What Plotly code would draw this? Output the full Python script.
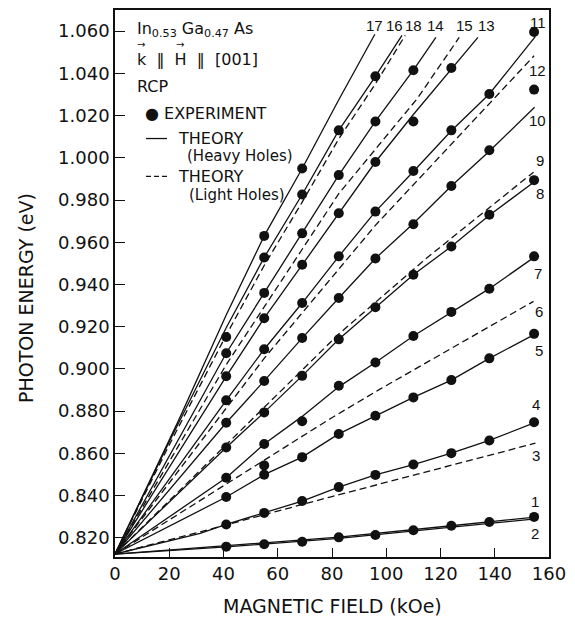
import plotly.graph_objects as go

# ---------------- data ----------------
E0 = 0.8123

# experimental points, per field column (kOe)
exp_fields = [41, 55, 69, 82.5, 96, 110, 124, 138, 154.5]
exp_41 = [0.9151, 0.9074, 0.8965, 0.8851, 0.8745, 0.8628, 0.8484, 0.8393, 0.8263, 0.8158]
exp_55 = [0.9630, 0.9528, 0.9360, 0.9240, 0.9093, 0.8943, 0.8794, 0.8644, 0.8543, 0.8499, 0.8318, 0.8169]
exp_69 = [0.9949, 0.9826, 0.9642, 0.9493, 0.9312, 0.9146, 0.8967, 0.8752, 0.8582, 0.8374, 0.8181]
exp_82 = [1.0130, 0.9918, 0.9737, 0.9533, 0.9336, 0.9140, 0.8920, 0.8692, 0.8440, 0.8202]
exp_96 = [1.0386, 1.0172, 0.9980, 0.9745, 0.9523, 0.9292, 0.9030, 0.8778, 0.8498, 0.8213]
exp_110 = [1.0415, 1.0172, 0.9937, 0.9685, 0.9446, 0.9156, 0.8865, 0.8547, 0.8236]
exp_124 = [1.0425, 1.0130, 0.9866, 0.9580, 0.9270, 0.8947, 0.8601, 0.8257]
exp_138 = [1.0302, 1.0036, 0.9730, 0.9380, 0.9050, 0.8661, 0.8275]
exp_154 = [1.0596, 1.0323, 0.9894, 0.9533, 0.9166, 0.8747, 0.8299]
exp_columns = [exp_41, exp_55, exp_69, exp_82, exp_96, exp_110, exp_124, exp_138, exp_154]

# theory lines: (field list, energy list), heavy holes solid, light holes dashed
L1_B = [0, 41, 82.5, 124, 155];  L1_E = [E0, 0.8162, 0.8203, 0.8257, 0.8298]
L2_B = [0, 41, 82.5, 124, 155];  L2_E = [E0, 0.8157, 0.8197, 0.8250, 0.8290]
L3_B = [0, 31.4, 79.3, 155];     L3_E = [E0, 0.8228, 0.8393, 0.8648]
L4_B = [0, 31.4, 41, 55, 69, 82.5, 96, 110, 124, 138, 155]
L4_E = [E0, 0.8221, 0.8263, 0.8318, 0.8374, 0.8440, 0.8498, 0.8547, 0.8601, 0.8661, 0.8747]
L5_B = [0, 41, 55, 69, 82.5, 96, 110, 124, 138, 155]
L5_E = [E0, 0.8393, 0.8499, 0.8582, 0.8692, 0.8778, 0.8865, 0.8947, 0.9050, 0.9166]
L6_B = [0, 31.4, 79.2, 97.7, 154.3]
L6_E = [E0, 0.8377, 0.8763, 0.8904, 0.9320]
L7_B = [0, 41, 55, 69, 82.5, 96, 110, 124, 138, 155]
L7_E = [E0, 0.8484, 0.8644, 0.8775, 0.8915, 0.9030, 0.9156, 0.9270, 0.9380, 0.9533]
L8_B = [0, 41, 55, 69, 82.5, 96, 110, 124, 138, 155]
L8_E = [E0, 0.8628, 0.8794, 0.8967, 0.9140, 0.9292, 0.9446, 0.9580, 0.9728, 0.9890]
L9_B = [0, 41, 82.5, 114.8, 154.3]
L9_E = [E0, 0.8640, 0.9165, 0.9524, 0.9932]
L10_B = [0, 41, 55, 69, 82.5, 96, 110, 124, 138, 154.7]
L10_E = [E0, 0.8745, 0.8943, 0.9146, 0.9336, 0.9523, 0.9689, 0.9866, 1.0031, 1.0239]
L11_B = [0, 41, 55, 69, 82.5, 96, 110, 124, 138, 155]
L11_E = [E0, 0.8851, 0.9093, 0.9312, 0.9533, 0.9745, 0.9935, 1.0128, 1.0302, 1.0575]
L12_B = [0, 55, 96, 124.6, 154.5]
L12_E = [E0, 0.9050, 0.9680, 1.0074, 1.0483]
L13_B = [0, 41, 55, 69, 82.5, 96, 110, 124, 133.8]
L13_E = [E0, 0.8965, 0.9240, 0.9493, 0.9737, 0.9980, 1.0205, 1.0420, 1.0570]
L14_B = [0, 41, 55, 69, 82.5, 96, 110, 118.3]
L14_E = [E0, 0.9074, 0.9360, 0.9642, 0.9918, 1.0172, 1.0415, 1.0570]
L15_B = [0, 41, 82.5, 111.4, 126.9]
L15_E = [E0, 0.9020, 0.9830, 1.0280, 1.0570]
L16_B = [0, 20, 41, 55, 69, 82.5, 96, 107]
L16_E = [E0, 0.8640, 0.9160, 0.9490, 0.9790, 1.0090, 1.0350, 1.0580]
L17_B = [0, 23.4, 41, 55, 69, 82.5, 95.8]
L17_E = [E0, 0.8755, 0.9255, 0.9630, 0.9949, 1.0275, 1.0585]
L18_B = [0, 20, 41, 55, 69, 82.5, 96, 105.8]
L18_E = [E0, 0.8655, 0.9195, 0.9528, 0.9826, 1.0130, 1.0386, 1.0580]

solid_lines = [(L1_B, L1_E), (L2_B, L2_E), (L4_B, L4_E), (L5_B, L5_E), (L7_B, L7_E),
               (L8_B, L8_E), (L10_B, L10_E), (L11_B, L11_E), (L13_B, L13_E),
               (L14_B, L14_E), (L17_B, L17_E), (L18_B, L18_E)]
dashed_lines = [(L3_B, L3_E), (L6_B, L6_E), (L9_B, L9_E), (L12_B, L12_E),
                (L15_B, L15_E), (L16_B, L16_E)]

# line labels (text, field, energy)
label_text = ["17", "16", "18", "14", "15", "13", "11", "12", "10", "9", "8", "7", "6", "5", "4", "3", "1", "2"]
label_B = [95.5, 102.9, 109.9, 118.3, 128.9, 136.9, 155.9, 155.9, 155.8, 156.6, 156.6, 155.9, 156.3, 156.3, 155.1, 155.3, 154.7, 154.7]
label_E = [1.0626, 1.0626, 1.0626, 1.0626, 1.0626, 1.0626, 1.0640, 1.0413, 1.0177, 0.9988, 0.9830, 0.9454, 0.9273, 0.9085, 0.8830, 0.8590, 0.8370, 0.8221]

y_ticks = [0.82, 0.84, 0.86, 0.88, 0.90, 0.92, 0.94, 0.96, 0.98, 1.00, 1.02, 1.04, 1.06]
y_tick_text = ["0.820", "0.840", "0.860", "0.880", "0.900", "0.920", "0.940", "0.960", "0.980",
               "1.000", "1.020", "1.040", "1.060"]
x_ticks = [0, 20, 40, 60, 80, 100, 120, 140, 160]

# ---------------- figure ----------------
INK = "#111111"
FONT = "DejaVu Sans"
LFONT = "Liberation Sans"
fig = go.Figure()

for B, E in solid_lines:
    fig.add_trace(go.Scatter(x=B, y=E, mode="lines", line=dict(color=INK, width=1.3),
                             hoverinfo="skip", showlegend=False))
for B, E in dashed_lines:
    fig.add_trace(go.Scatter(x=B, y=E, mode="lines", line=dict(color=INK, width=1.3, dash="7px,4px"),
                             hoverinfo="skip", showlegend=False))

ex, ey = [], []
for f, col in zip(exp_fields, exp_columns):
    ex += [f] * len(col)
    ey += col
fig.add_trace(go.Scatter(x=ex, y=ey, mode="markers", marker=dict(color=INK, size=10),
                         showlegend=False))

ann = []
for t, b, e in zip(label_text, label_B, label_E):
    ann.append(dict(x=b, y=e, xref="x", yref="y", text=t, showarrow=False,
                    font=dict(family=LFONT, size=15, color=INK), xanchor="center", yanchor="middle"))

# page has an 8px body margin; plot area on the page: x 115..549, y 8..557
def px(x):
    return (x - 115) / 434.0

def py(y):
    return (557 - y) / 549.0

def txt(x, y, s, size=16, anchor="left"):
    ann.append(dict(x=px(x), y=py(y), xref="paper", yref="paper", text=s, showarrow=False,
                    font=dict(family=FONT, size=size, color=INK), xanchor=anchor, yanchor="middle"))

txt(135, 28, "In<sub>0.53</sub> Ga<sub>0.47</sub> As")
txt(135, 58, "k  \u2016  H  \u2016  [001]")
txt(141, 43, "\u2192", 10, "center")
txt(180, 43, "\u2192", 10, "center")
txt(135, 85, "RCP")
txt(143, 112, "\u25cf EXPERIMENT")
txt(176, 137, "THEORY")
txt(185, 155, "(Heavy Holes)", 15)
txt(176, 175, "THEORY")
txt(187, 194, "(Light Holes)", 15)

# axis titles
ann.append(dict(x=px(332), y=py(606), xref="paper", yref="paper", text="MAGNETIC FIELD (kOe)",
                showarrow=False, font=dict(family=FONT, size=19, color=INK),
                xanchor="center", yanchor="middle"))
ann.append(dict(x=px(26), y=py(297), xref="paper", yref="paper", text="PHOTON ENERGY (eV)",
                showarrow=False, textangle=-90, font=dict(family=FONT, size=19, color=INK),
                xanchor="center", yanchor="middle"))

shapes = [
    dict(type="line", xref="paper", yref="paper", x0=px(146), x1=px(167), y0=py(137), y1=py(137),
         line=dict(color=INK, width=1.3)),
    dict(type="line", xref="paper", yref="paper", x0=px(146), x1=px(167), y0=py(175), y1=py(175),
         line=dict(color=INK, width=1.3, dash="5px,3px")),
]

fig.update_layout(
    width=567, height=615, autosize=False,
    margin=dict(l=107, r=26, t=0, b=66),
    paper_bgcolor="white", plot_bgcolor="white",
    annotations=ann, shapes=shapes, showlegend=False,
    xaxis=dict(range=[0, 160], tickvals=x_ticks, ticks="inside", ticklen=9, tickwidth=1.3,
               tickcolor=INK, showline=True, linecolor=INK, linewidth=1.5, mirror=True,
               showgrid=False, zeroline=False,
               tickfont=dict(family=FONT, size=18, color=INK)),
    yaxis=dict(range=[0.8109, 1.0700], tickvals=y_ticks, ticktext=y_tick_text, ticks="inside",
               ticklen=10, tickwidth=1.3, tickcolor=INK, showline=True, linecolor=INK,
               linewidth=1.5, mirror=True, showgrid=False, zeroline=False,
               tickfont=dict(family=FONT, size=18, color=INK)),
)

fig.write_html("out.html")
